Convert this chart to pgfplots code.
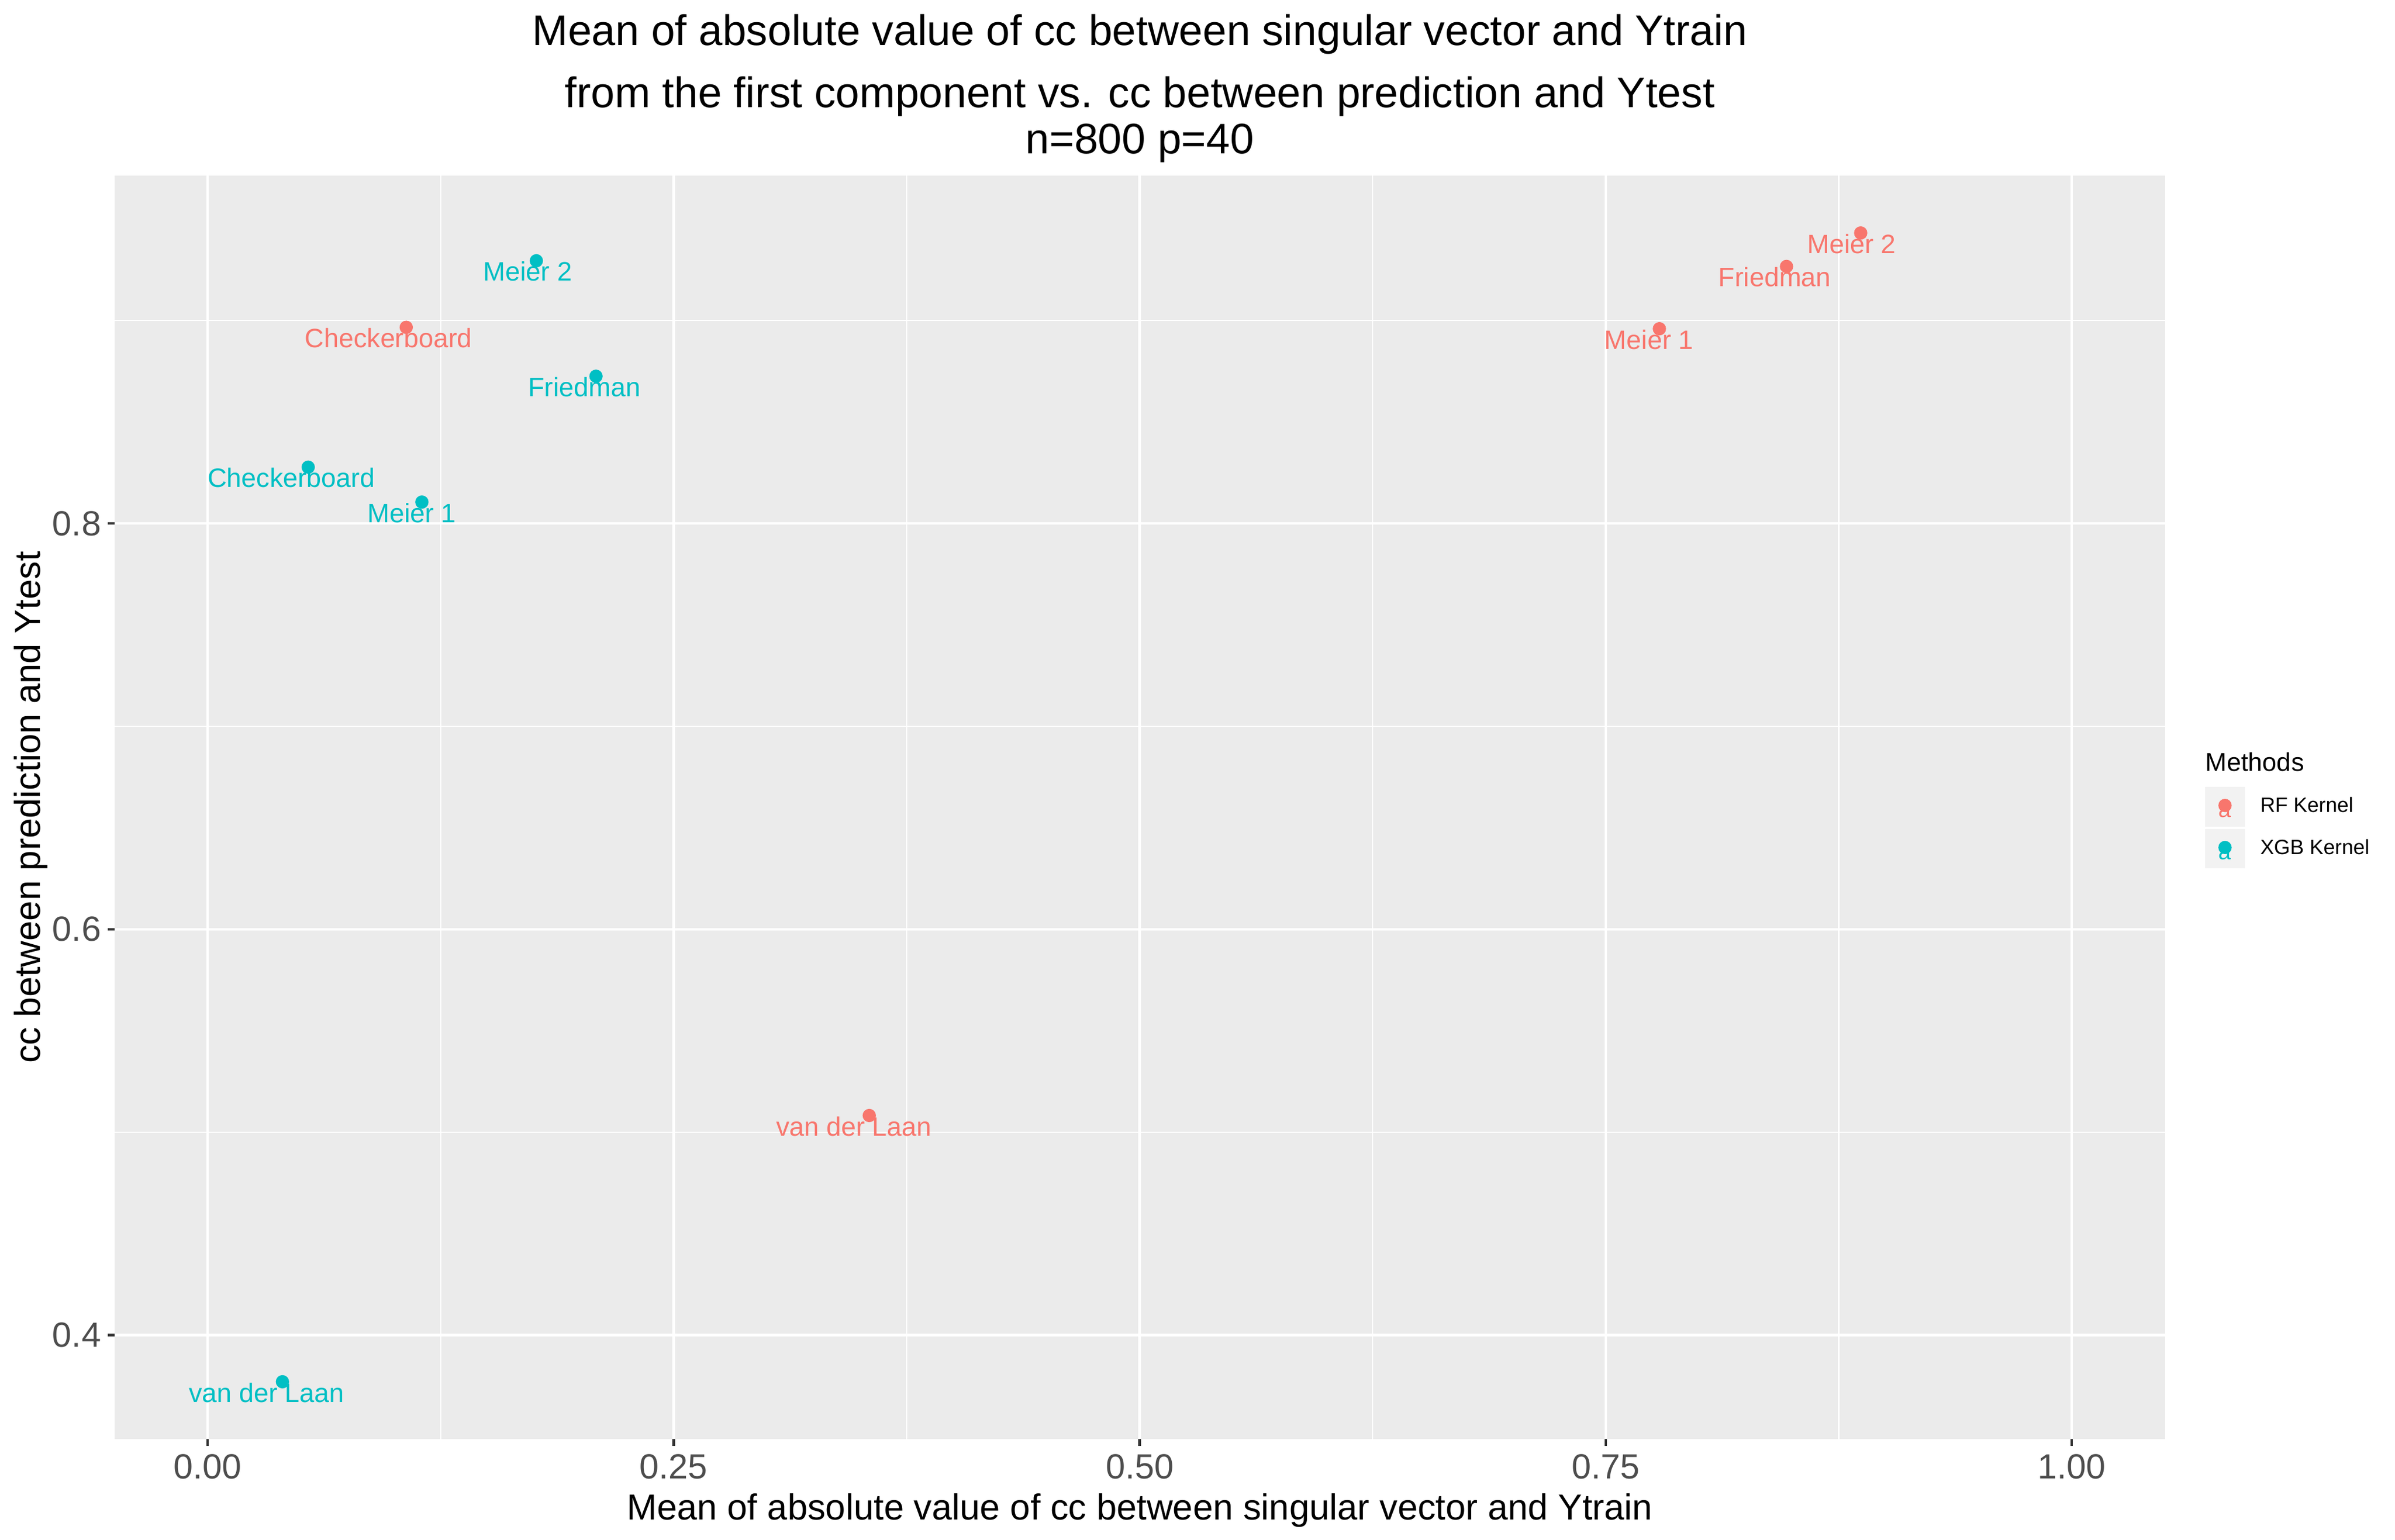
\documentclass[border=0pt]{standalone}
\usepackage{pgfplots}
\pgfplotsset{compat=1.18}
\usepackage{pgfplotstable}
\usepackage{fontspec}
\setmainfont{Liberation Sans}
\definecolor{rf}{HTML}{F8766D}
\definecolor{xgb}{HTML}{00BFC4}
\definecolor{panel}{HTML}{EBEBEB}
\definecolor{keybg}{HTML}{F2F2F2}
\definecolor{gthirty}{HTML}{4D4D4D}
\definecolor{gtwenty}{HTML}{333333}

\pgfplotstableread[col sep=comma]{
x,y,lx,label
0.8868,0.9431,0.8819,Meier 2
0.8470,0.9266,0.8407,Friedman
0.7788,0.8959,0.7732,Meier 1
0.1065,0.8966,0.0970,Checkerboard
0.3549,0.5082,0.3467,van der Laan
}\rfdata

\pgfplotstableread[col sep=comma]{
x,y,lx,label
0.1763,0.9294,0.1717,Meier 2
0.2083,0.8725,0.2021,Friedman
0.0539,0.8277,0.0448,Checkerboard
0.1149,0.8105,0.1095,Meier 1
0.0401,0.3770,0.0315,van der Laan
}\xgbdata

\pgfplotsset{
  rfkey/.style={legend image code/.code={
    \fill[keybg] (0pt,-8.15pt) rectangle (16.3pt,8.15pt);
    \fill[rf] (8.15pt,0.5pt) circle (2.6pt);
    \node[anchor=base, inner sep=0pt, text=rf, font=\fontsize{9.5}{10}\selectfont] at (8.15pt,-4.6pt) {a};
  }},
  xgbkey/.style={legend image code/.code={
    \fill[keybg] (0pt,-8.15pt) rectangle (16.3pt,8.15pt);
    \fill[xgb] (8.15pt,0.5pt) circle (2.6pt);
    \node[anchor=base, inner sep=0pt, text=xgb, font=\fontsize{9.5}{10}\selectfont] at (8.15pt,-4.6pt) {a};
  }},
}

\begin{document}
\begin{tikzpicture}
\useasboundingbox (0,0) rectangle (1008pt,648pt);
\begin{axis}[
  at={(48.2pt,42.2pt)}, anchor=south west,
  width=863.1pt, height=531.9pt, scale only axis,
  xmin=-0.05, xmax=1.0502, ymin=0.3487, ymax=0.9714,
  clip=false,
  axis background/.style={fill=panel},
  axis line style={draw=none},
  tick pos=left, tick align=outside,
  major tick length=2.75pt, minor tick length=0pt,
  tick style={color=gtwenty, line width=1.07pt},
  xtick={0,0.25,0.5,0.75,1},
  ytick={0.4,0.6,0.8},
  minor xtick={0.125,0.375,0.625,0.875},
  minor ytick={0.5,0.7,0.9},
  grid=both,
  major grid style={white, line width=1.07pt},
  minor grid style={white, line width=0.53pt},
  /pgf/number format/assume math mode=true,
  xticklabel style={/pgf/number format/.cd, fixed, fixed zerofill, precision=2, /tikz/.cd, inner sep=0pt, yshift=-3.5pt, text=gthirty, font=\fontsize{14.7}{17}\selectfont},
  yticklabel style={/pgf/number format/.cd, fixed, fixed zerofill, precision=1, /tikz/.cd, inner sep=0pt, xshift=-2.75pt, text=gthirty, font=\fontsize{14.7}{17}\selectfont},
  xlabel={Mean of absolute value of cc between singular vector and Ytrain},
  ylabel={cc between prediction and Ytest},
  xlabel style={at={(axis description cs:0.5,-0.06355)}, anchor=base, inner sep=0pt, font=\fontsize{15.2}{18}\selectfont},
  ylabel style={at={(axis description cs:-0.03638,0.5)}, anchor=base, inner sep=0pt, rotate=0, font=\fontsize{15.2}{18}\selectfont},
  legend style={at={(1.01946,0.51626)}, anchor=north west, draw=none, fill=none,
    inner sep=0pt, outer sep=0pt, row sep=1pt, column sep=6.5pt,
    font=\fontsize{8.7}{10}\selectfont, nodes={inner sep=0pt}},
  legend cell align=left,
]
\addplot[only marks, mark=*, mark size=2.6pt, color=rf, mark options={draw=none, fill=rf}, rfkey] table[x=x, y=y] {\rfdata};
\addlegendentry{RF Kernel}
\addplot[only marks, mark=*, mark size=2.6pt, color=xgb, mark options={draw=none, fill=xgb}, xgbkey] table[x=x, y=y] {\xgbdata};
\addlegendentry{XGB Kernel}
\addplot[draw=none, mark=none, forget plot, nodes near coords, point meta=explicit symbolic,
  every node near coord/.append style={anchor=base, yshift=-8.55pt, inner sep=0pt, text=rf, font=\fontsize{11.2}{13}\selectfont}]
  table[x=lx, y=y, meta=label] {\rfdata};
\addplot[draw=none, mark=none, forget plot, nodes near coords, point meta=explicit symbolic,
  every node near coord/.append style={anchor=base, yshift=-8.55pt, inner sep=0pt, text=xgb, font=\fontsize{11.2}{13}\selectfont}]
  table[x=lx, y=y, meta=label] {\xgbdata};
\node[anchor=base, inner sep=0pt, font=\fontsize{18}{21}\selectfont] at (rel axis cs:0.5,1.1032) {Mean of absolute value of cc between singular vector and Ytrain};
\node[anchor=base, inner sep=0pt, font=\fontsize{18}{21}\selectfont] at (rel axis cs:0.5,1.0540) {from the first component vs. cc between prediction and Ytest};
\node[anchor=base, inner sep=0pt, font=\fontsize{18}{21}\selectfont] at (rel axis cs:0.5,1.0175) {n=800 p=40};
\node[anchor=base west, inner sep=0pt, font=\fontsize{10.8}{13}\selectfont] at (rel axis cs:1.01946,0.52887) {Methods};
\end{axis}
\end{tikzpicture}
\end{document}
